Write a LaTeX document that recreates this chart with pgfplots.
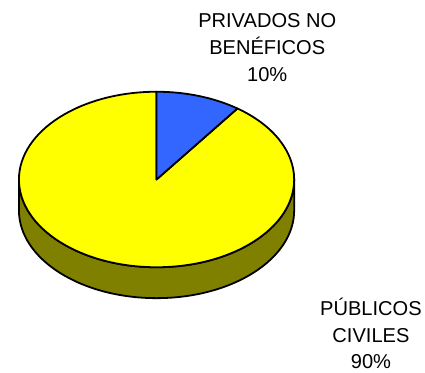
\documentclass[border=0pt]{standalone}
\usepackage{pgfplots}
\pgfplotsset{compat=1.18}
\usepackage{pgfplotstable}
\usepackage{fontspec}
\setmainfont{Liberation Sans}
\definecolor{pieyellow}{HTML}{FFFF00}
\definecolor{pieblue}{HTML}{3366FF}
\definecolor{pieside}{HTML}{808000}
\pgfplotstableread{
label value
privados 10
publicos 90
}\piedata
\begin{document}
\begin{tikzpicture}
\pgfplotstablegetelem{0}{value}\of\piedata \let\vA\pgfplotsretval
\pgfplotstablegetelem{1}{value}\of\piedata \let\vB\pgfplotsretval
\pgfmathsetmacro{\aEnd}{90-360*\vA/(\vA+\vB)}
\pgfmathsetmacro{\aYel}{\aEnd+360}
\pgfmathsetmacro{\bx}{157+138*cos(\aEnd)}
\pgfmathsetmacro{\by}{190+88*sin(\aEnd)}
\begin{axis}[x=1bp,y=1bp,xmin=0,xmax=425,ymin=0,ymax=370,hide axis,clip=false]
\path (axis cs:0,0) rectangle (axis cs:425,370);
% side
\filldraw[fill=pieside,draw=black,line width=1.8bp]
  (axis cs:19,190) -- (axis cs:19,159)
  arc[start angle=180,end angle=360,x radius=138bp,y radius=88bp]
  -- (axis cs:295,190)
  arc[start angle=0,end angle=-180,x radius=138bp,y radius=88bp] -- cycle;
% yellow slice
\filldraw[fill=pieyellow,draw=black,line width=1.8bp,line join=round]
  (axis cs:157,190) -- (axis cs:157,278)
  arc[start angle=90,end angle=\aYel,x radius=138bp,y radius=88bp] -- cycle;
% blue slice
\filldraw[fill=pieblue,draw=black,line width=1.8bp,line join=round]
  (axis cs:157,190) -- (axis cs:\bx,\by)
  arc[start angle=\aEnd,end angle=90,x radius=138bp,y radius=88bp] -- cycle;
\node[align=center,font=\fontsize{20.2}{27}\selectfont] at (axis cs:268,322) {PRIVADOS NO\\BENÉFICOS\\10\%};
\node[align=center,font=\fontsize{20.2}{27}\selectfont] at (axis cs:372,35.5) {PÚBLICOS\\CIVILES\\90\%};
\end{axis}
\end{tikzpicture}
\end{document}
